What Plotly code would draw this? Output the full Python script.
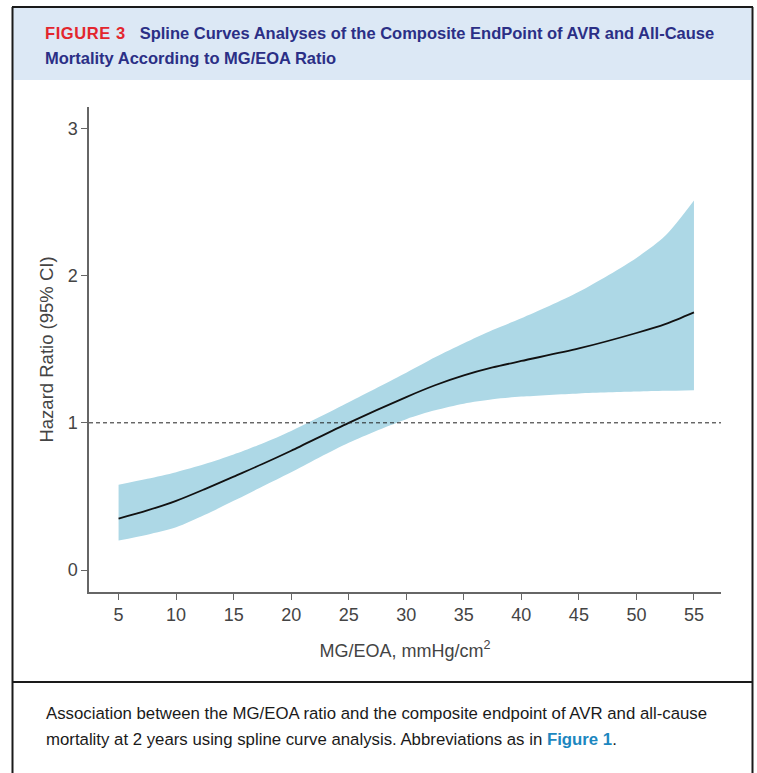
import plotly.graph_objects as go

# ---- data ----
mg_eoa = [5, 7.5, 10, 12.5, 15, 17.5, 20, 25, 30, 32.5, 35, 37.5, 40, 45, 50, 52.5, 55]
hazard_ratio = [0.35, 0.405, 0.47, 0.55, 0.635, 0.72, 0.81, 1.0, 1.175, 1.255, 1.322, 1.376, 1.42, 1.505, 1.61, 1.67, 1.75]
ci_lower = [0.20, 0.24, 0.29, 0.375, 0.47, 0.568, 0.665, 0.865, 1.025, 1.085, 1.13, 1.16, 1.178, 1.20, 1.212, 1.217, 1.222]
ci_upper = [0.58, 0.62, 0.665, 0.72, 0.785, 0.86, 0.945, 1.14, 1.34, 1.445, 1.54, 1.63, 1.71, 1.89, 2.12, 2.27, 2.51]
x_ticks = [5, 10, 15, 20, 25, 30, 35, 40, 45, 50, 55]
y_ticks = [0, 1, 2, 3]
reference_hr = 1

W, H = 757, 773
L, R, T, B = 89, 36, 107, 181
PW, PH = W - L - R, H - T - B


def px(x):
    return (x - L) / PW


def py(y):
    return (H - B - y) / PH


fig = go.Figure()
fig.add_trace(go.Scatter(x=mg_eoa, y=ci_lower, mode="lines", line=dict(width=0, shape="spline", smoothing=0.8),
                         hoverinfo="skip", showlegend=False))
fig.add_trace(go.Scatter(x=mg_eoa, y=ci_upper, mode="lines", line=dict(width=0, shape="spline", smoothing=0.8),
                         fill="tonexty", fillcolor="#ADD8E6", hoverinfo="skip", showlegend=False))
fig.add_trace(go.Scatter(x=mg_eoa, y=hazard_ratio, mode="lines",
                         line=dict(color="#111111", width=1.8, shape="spline", smoothing=0.8), showlegend=False))

shapes = []
# reference dashed line
shapes.append(dict(type="line", xref="paper", yref="y", x0=0, x1=1, y0=reference_hr, y1=reference_hr,
                   line=dict(color="#222222", width=1, dash="4px,3px")))
# header band
shapes.append(dict(type="rect", xref="paper", yref="paper", x0=px(13), x1=px(751.5), y0=py(8), y1=py(80),
                   fillcolor="#DCE8F5", line=dict(width=0), layer="below"))
# frame
for (x0, y0, x1, y1) in [(12, 7, 753, 7), (12.5, 7, 12.5, 775), (752.5, 7, 752.5, 775), (12, 682, 753, 682)]:
    shapes.append(dict(type="line", xref="paper", yref="paper", x0=px(x0), x1=px(x1), y0=py(y0), y1=py(y1),
                       line=dict(color="#1a1a1a", width=2)))

text_font = "Liberation Sans, Arial, sans-serif"
annotations = [
    dict(xref="paper", yref="paper", x=px(43), y=py(33), xanchor="left", yanchor="middle", showarrow=False,
         text="<span style='color:#E3262E;letter-spacing:0.6px'>FIGURE 3</span>&nbsp;&nbsp; "
              "Spline Curves Analyses of the Composite EndPoint of AVR and All-Cause",
         font=dict(family=text_font, size=16.5, color="#2B2F86", weight="bold")),
    dict(xref="paper", yref="paper", x=px(43), y=py(58), xanchor="left", yanchor="middle", showarrow=False,
         text="Mortality According to MG/EOA Ratio",
         font=dict(family=text_font, size=16.5, color="#2B2F86", weight="bold")),
    dict(xref="paper", yref="paper", x=px(44), y=py(713), xanchor="left", yanchor="middle", showarrow=False,
         text="Association between the MG/EOA ratio and the composite endpoint of AVR and all-cause",
         font=dict(family=text_font, size=16.8, color="#1a1a1a")),
    dict(xref="paper", yref="paper", x=px(44), y=py(739), xanchor="left", yanchor="middle", showarrow=False,
         text="mortality at 2 years using spline curve analysis. Abbreviations as in "
              "<b><span style='color:#1C87C0'>Figure 1</span></b>.",
         font=dict(family=text_font, size=16.8, color="#1a1a1a")),
]

axis_font = dict(family="Liberation Sans, Arial, sans-serif", size=18, color="#444444")
fig.update_layout(
    width=W, height=H, margin=dict(l=L, r=R, t=T, b=B),
    paper_bgcolor="white", plot_bgcolor="white",
    shapes=shapes, annotations=annotations,
    xaxis=dict(range=[2.43, 57.35], tickvals=x_ticks, ticks="outside", ticklen=6, tickcolor="#666666",
               showline=True, linecolor="#666666", linewidth=1.5, showgrid=False, zeroline=False,
               tickfont=axis_font,
               title=dict(text="MG/EOA, mmHg/cm<sup>2</sup>", font=axis_font, standoff=20)),
    yaxis=dict(range=[-0.149, 3.145], tickvals=y_ticks, ticks="outside", ticklen=6, tickcolor="#666666",
               showline=True, linecolor="#666666", linewidth=1.5, showgrid=False, zeroline=False,
               tickfont=axis_font,
               title=dict(text="Hazard Ratio (95% CI)", font=dict(family="Liberation Sans, Arial, sans-serif",
                                                                    size=18.5, color="#444444"), standoff=9)),
)

fig.write_html("out.html", config={"displayModeBar": False},
               post_script="document.body.style.margin='0';document.body.style.overflow='hidden';")
